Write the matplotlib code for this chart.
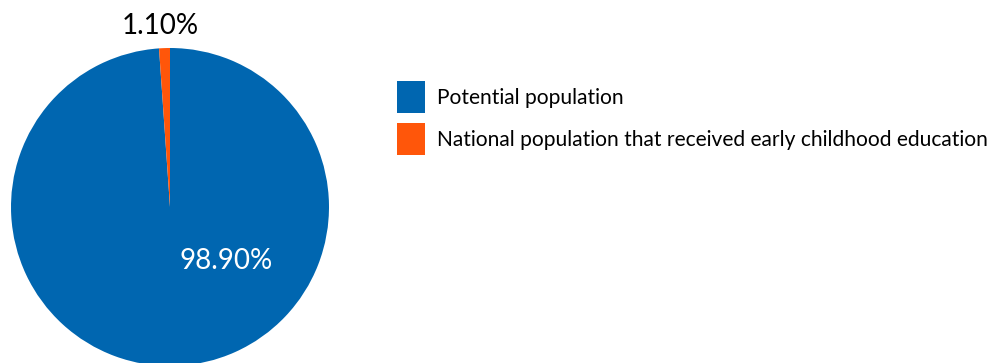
import matplotlib.pyplot as plt
from matplotlib.patches import Patch

labels = ["Potential population", "National population that received early childhood education"]
shares = [98.90, 1.10]
colors = ["#0066B0", "#FF560A"]

plt.rcParams['font.family'] = ['Lato', 'DejaVu Sans']

fig = plt.figure(figsize=(9.94, 3.63), dpi=100)
ax = fig.add_axes([11 / 994, -3 / 363, 318 / 994, 318 / 363])
wedges, _ = ax.pie(shares, colors=colors, startangle=90, counterclock=False,
                   radius=1.0, wedgeprops=dict(linewidth=0))
ax.set_xlim(-1, 1)
ax.set_ylim(-1, 1)
ax.set_aspect('equal')

# data labels placed like the original (Excel style)
ax.text(0.35, -0.34, f"{shares[0]:.2f}%", color="white", fontsize=20,
        ha="center", va="center")
ax.text(-0.06, 1.14, f"{shares[1]:.2f}%", color="black", fontsize=20,
        ha="center", va="center", clip_on=False)

handles = [Patch(facecolor=c, edgecolor="none") for c in colors]
fig.legend(handles, labels, loc="upper left", bbox_to_anchor=(397 / 994, 1 - 81 / 363),
           frameon=False, fontsize=15.1, handlelength=1.35, handleheight=1.97,
           handletextpad=0.55, labelspacing=0.48, borderaxespad=0, borderpad=0)

fig.savefig("out.png", dpi=100)
